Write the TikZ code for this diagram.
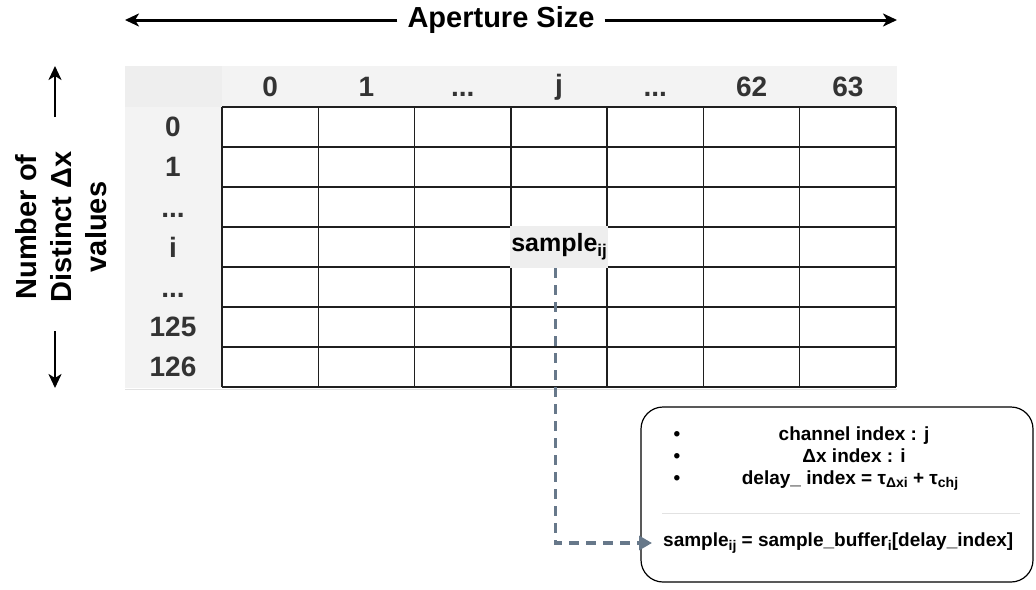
\documentclass[tikz,border=0pt]{standalone}
\usepackage{fontspec}
\setmainfont{Liberation Sans}
\usetikzlibrary{arrows.meta,calc}
\definecolor{hdrfill}{HTML}{F3F3F3}
\definecolor{cornerfill}{HTML}{EEEEEE}
\definecolor{lblgray}{HTML}{333333}
\definecolor{linkgray}{HTML}{67788A}
\definecolor{sepgray}{HTML}{E2E2E2}
\newcommand\mysub[1]{\raisebox{-0.35ex}{\fontsize{14}{14}\selectfont #1}}
\newcommand\bigsub[1]{\raisebox{-0.35ex}{\fontsize{17}{17}\selectfont #1}}
\begin{document}
\begin{tikzpicture}[x=1pt,y=-1pt,
  lab/.style={font=\fontsize{28}{32}\selectfont\bfseries, text=lblgray, inner sep=0pt},
  title/.style={font=\fontsize{29}{34}\selectfont\bfseries, text=black},
  gridline/.style={draw=black!88, line width=1.5pt},
  dimarrow/.style={draw=black, line width=3pt, -{Stealth[length=14pt,width=13pt,inset=4pt]}},
  boxtxt/.style={font=\fontsize{19}{22}\selectfont\bfseries, inner sep=0pt},
  link/.style={draw=linkgray, line width=3.2pt, dash pattern=on 10pt off 7pt,
    -{Triangle[length=13pt,width=14pt]}},
]
\useasboundingbox (0,0) rectangle (1036,589);

% header band, row-label band and corner
\fill[hdrfill] (125,66) rectangle (897,107);
\fill[hdrfill] (125,107) rectangle (222,388);
\fill[cornerfill] (125,66) rectangle (222,107);
\draw[sepgray, line width=1pt] (125,389) -- (897,389);

% cell grid: 7 columns x 7 rows
\foreach \k in {0,...,7} \draw[gridline] ({222+96.29*\k},107) -- ({222+96.29*\k},387);
\foreach \k in {0,...,7} \draw[gridline] (222,{107+40*\k}) -- (896.0,{107+40*\k});

% highlighted cell
\node[fill=cornerfill, minimum width=97.5pt, minimum height=42pt, inner sep=0pt,
  font=\fontsize{25}{28}\selectfont\bfseries] (s) at (559.1,247) {sample\bigsub{ij}};

% column labels
\node[lab] (h0) at (270.1,87) {0};
\node[lab] (h1) at (366.4,87) {1};
\node[lab] (h2) at (462.7,94) {...};
\node[lab] (h3) at (559.0,87) {j};
\node[lab] (h4) at (655.3,94) {...};
\node[lab] (h5) at (751.6,87) {62};
\node[lab] (h6) at (847.9,87) {63};

% row labels
\node[lab] (r0) at (173,127) {0};
\node[lab] (r1) at (173,167) {1};
\node[lab] (r2) at (173,215) {...};
\node[lab] (r3) at (173,247) {i};
\node[lab] (r4) at (173,295) {...};
\node[lab] (r5) at (173,327) {125};
\node[lab] (r6) at (173,367) {126};

% aperture dimension
\node[title, inner xsep=10pt, inner ysep=0pt] (ap) at (501,20) {Aperture Size};
\coordinate (apL) at (125,20);
\coordinate (apR) at (897,20);
\draw[dimarrow] (ap.west) -- (apL);
\draw[dimarrow] (ap.east) -- (apR);

% vertical dimension
\node[title, rotate=90, align=center, font=\fontsize{29}{35}\selectfont\bfseries] (side) at (61,227)
  {Number of\\Distinct Δx\\values};
\coordinate (upA) at (55,117);
\coordinate (upB) at (55,66);
\coordinate (dnA) at (55,331);
\coordinate (dnB) at (55,388);
\draw[dimarrow, line width=2.6pt] (upA) -- (upB);
\draw[dimarrow, line width=2.6pt] (dnA) -- (dnB);

% lookup description box
\node[draw=black, line width=1.2pt, rounded corners=22pt, minimum width=392pt,
  minimum height=175pt, inner sep=0pt] (info) at (837,494.5) {};
\node[boxtxt, anchor=base] (b1) at (677,440) {•};
\node[boxtxt, anchor=base] (b2) at (677,462) {•};
\node[boxtxt, anchor=base] (b3) at (677,484) {•};
\node[boxtxt, anchor=base] (t1) at (854,440) {channel index : j};
\node[boxtxt, anchor=base] (t2) at (854,462) {Δx index : i};
\node[boxtxt, anchor=base] (t3) at (850,484) {delay\_ index = τ\mysub{Δxi} + τ\mysub{chj}};
\coordinate (sepL) at (662,513);
\coordinate (sepR) at (1020,513);
\draw[sepgray, line width=0.8pt] (sepL) -- (sepR);
\node[boxtxt, anchor=west] (eq) at (663,543)
  {sample\mysub{ij} = sample\_buffer\mysub{i}[delay\_index]};

% connector from the cell to the lookup expression
\draw[link] ([xshift=-4pt]s.south) -- ([xshift=-4pt]s.south |- eq.west) -- ([xshift=-11pt]eq.west);
\end{tikzpicture}
\end{document}
